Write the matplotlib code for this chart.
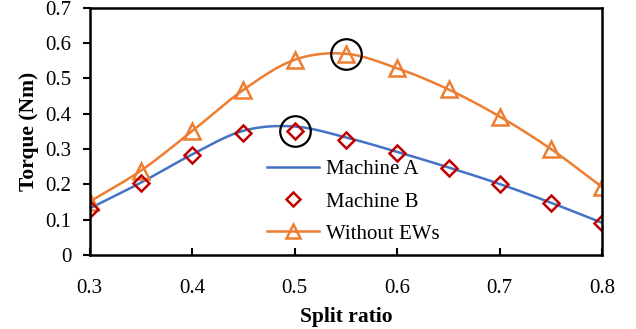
import numpy as np
import matplotlib.pyplot as plt
from matplotlib.lines import Line2D

plt.rcParams['font.family'] = ['Liberation Serif', 'DejaVu Serif']

split_ratio = [0.3, 0.35, 0.4, 0.45, 0.5, 0.55, 0.6, 0.65, 0.7, 0.75, 0.8]
machine_a = [0.132, 0.205, 0.285, 0.352, 0.364, 0.333, 0.292, 0.248, 0.201, 0.148, 0.091]
machine_b = [0.129, 0.203, 0.282, 0.345, 0.352, 0.326, 0.290, 0.246, 0.200, 0.146, 0.090]
without_ews = [0.151, 0.239, 0.351, 0.468, 0.553, 0.570, 0.529, 0.469, 0.392, 0.300, 0.192]

# optimum points ringed on the plot
optimum_x = [0.5, 0.55]
optimum_y = [machine_b[4], without_ews[5]]

BLUE = '#4472C4'
ORANGE = '#ED7D31'
RED = '#C00000'


def smooth(x, y, n=20):
    # Catmull-Rom curve through the points, like a smoothed spreadsheet line
    x = np.asarray(x, float)
    y = np.asarray(y, float)
    px = np.concatenate([[2 * x[0] - x[1]], x, [2 * x[-1] - x[-2]]])
    py = np.concatenate([[2 * y[0] - y[1]], y, [2 * y[-1] - y[-2]]])
    t = np.linspace(0, 1, n, endpoint=False)
    xs, ys = [], []
    for i in range(1, len(px) - 2):
        for p, out in ((px, xs), (py, ys)):
            p0, p1, p2, p3 = p[i - 1], p[i], p[i + 1], p[i + 2]
            out.extend(0.5 * (2 * p1 + (-p0 + p2) * t
                              + (2 * p0 - 5 * p1 + 4 * p2 - p3) * t ** 2
                              + (-p0 + 3 * p1 - 3 * p2 + p3) * t ** 3))
    xs.append(x[-1])
    ys.append(y[-1])
    return np.array(xs), np.array(ys)


fig = plt.figure(figsize=(6.36, 3.29), dpi=100)
ax = fig.add_axes([0.141, 0.225, 0.806, 0.751])

sx, sy = smooth(split_ratio, machine_a)
ax.plot(sx, sy, color=BLUE, lw=1.8)
sx, sy = smooth(split_ratio, without_ews)
ax.plot(sx, sy, color=ORANGE, lw=1.8)
ax.plot(split_ratio, without_ews, ls='none', marker='^', ms=11, mfc='none',
        mec=ORANGE, mew=1.8)
ax.plot(split_ratio, machine_b, ls='none', marker='D', ms=8, mfc='none',
        mec=RED, mew=1.8)
ax.plot(optimum_x, optimum_y, ls='none', marker='o', ms=22, mfc='none',
        mec='black', mew=1.6)

ax.set_xlim(0.3, 0.8)
ax.set_ylim(0, 0.7)
ax.set_xticks(np.arange(0.3, 0.81, 0.1))
ax.set_xticklabels(['0.3', '0.4', '0.5', '0.6', '0.7', '0.8'])
ax.set_yticks(np.arange(0, 0.71, 0.1))
ax.set_yticklabels(['0', '0.1', '0.2', '0.3', '0.4', '0.5', '0.6', '0.7'])
ax.tick_params(axis='x', direction='in', length=5, width=1.5, labelsize=15, pad=17)
ax.tick_params(axis='y', direction='out', length=5, width=1.5, labelsize=15, pad=8)
for s in ax.spines.values():
    s.set_linewidth(1.8)

ax.set_xlabel('Split ratio', fontsize=15.5, fontweight='bold', labelpad=7)
ax.set_ylabel('Torque (Nm)', fontsize=15.5, fontweight='bold', labelpad=5)

handles = [
    Line2D([], [], color=BLUE, lw=1.8),
    Line2D([], [], ls='none', marker='D', ms=7, mfc='none', mec=RED, mew=1.8),
    Line2D([], [], color=ORANGE, lw=1.8, marker='^', ms=10, mfc='none', mec=ORANGE, mew=1.8),
]
ax.legend(handles, ['Machine A', 'Machine B', 'Without EWs'], loc='lower left',
          bbox_to_anchor=(0.31, -0.03), frameon=False, fontsize=15,
          handlelength=2.5, handletextpad=0.3, labelspacing=0.6)

fig.savefig('out.png', dpi=100)
